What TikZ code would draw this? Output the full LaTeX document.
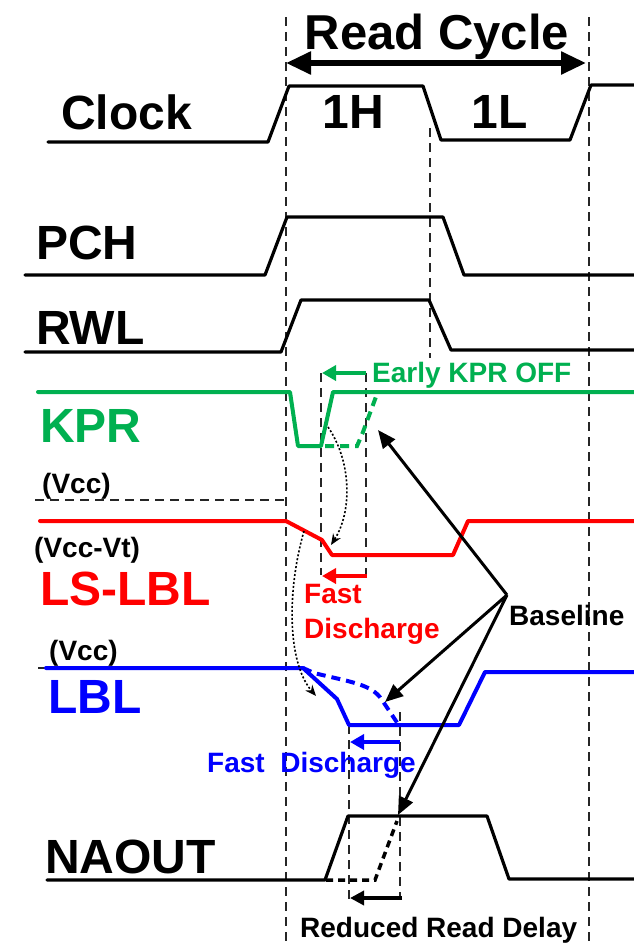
\documentclass[tikz,border=0pt]{standalone}
\usepackage{fontspec}
\setmainfont{Liberation Sans}
\usetikzlibrary{arrows.meta}
\definecolor{kgreen}{RGB}{0,176,80}
\definecolor{kred}{RGB}{255,0,0}
\definecolor{kblue}{RGB}{0,0,255}
\begin{document}
\begin{tikzpicture}[x=1pt,y=-1pt,
  titletext/.style={font=\fontsize{49}{53}\selectfont\bfseries, inner sep=0pt, anchor=base},
  bigtext/.style={font=\fontsize{48}{52}\selectfont\bfseries, inner sep=0pt, anchor=base west},
  phasetext/.style={font=\fontsize{48}{52}\selectfont\bfseries, inner sep=0pt, anchor=base},
  smalltext/.style={font=\fontsize{28}{31}\selectfont\bfseries, inner sep=0pt, anchor=base west},
  voltext/.style={font=\fontsize{28}{31}\selectfont\bfseries, inner sep=0pt, anchor=base west},
  wave/.style={line width=3.2pt, line join=round, line cap=round},
  cwave/.style={line width=4pt, line join=round, line cap=round},
  cdash/.style={line width=4pt, dash pattern=on 9pt off 6pt},
  guide/.style={line width=1.2pt, dash pattern=on 9pt off 6pt, black!85},
  shiftarrow/.style={line width=4pt, -{Triangle[length=14pt,width=15pt]}},
  dotarrow/.style={line width=1.6pt, dash pattern=on 2pt off 2pt, -{Stealth[length=11pt,width=9pt]}},
  basearrow/.style={line width=3pt, -{Triangle[length=18pt,width=15pt]}}
]
\useasboundingbox (0,0) rectangle (634,946);

% guide lines
\draw[guide] (286,17) -- (286,946);
\draw[guide] (589,17) -- (589,946);
\draw[guide] (430,128) -- (430,358);
\draw[guide] (321,373) -- (321,575);
\draw[guide] (366,373) -- (366,575);
\draw[guide] (349,725) -- (349,900);
\draw[guide] (400,712) -- (400,900);
\draw[guide] (35,500) -- (286,500);
\draw[guide] (38,668) -- (286,668);

% title
\node[titletext] (title) at (437,49) {Read Cycle};
\coordinate (rcl) at (286,63);
\coordinate (rcr) at (586,63);
\draw[line width=5.5pt, {Triangle[length=25pt,width=22pt]}-{Triangle[length=25pt,width=22pt]}] (rcl) -- (rcr);

% Clock
\node[bigtext] (clk) at (61,129) {Clock};
\node[phasetext] (h1) at (353,128) {1H};
\node[phasetext] (l1) at (500,128) {1L};
\draw[wave] (48,142) -- (268,142) -- (289,86) -- (423,86) -- (441,140) -- (570,140) -- (591,85) -- (634,85);

% PCH
\node[bigtext] (pch) at (36,259) {PCH};
\draw[wave] (25,275) -- (265,275) -- (287,217) -- (443,217) -- (464,275) -- (634,275);

% RWL
\node[bigtext] (rwl) at (36,344) {RWL};
\draw[wave] (25,352) -- (281,352) -- (301,300) -- (429,300) -- (451,350) -- (634,350);

% KPR
\node[bigtext, text=kgreen] (kpr) at (40,442) {KPR};
\draw[cwave, kgreen] (38,392) -- (290,392) -- (298,446) -- (321,446) -- (333,392) -- (634,392);
\draw[cdash, kgreen] (325,446) -- (357,446) -- (363,432) -- (377,394);
\coordinate (ek1) at (366,373);
\coordinate (ek2) at (322,373);
\draw[shiftarrow, kgreen] (ek1) -- (ek2);
\node[smalltext, text=kgreen] (early) at (372,382) {Early KPR OFF};

% LS-LBL
\node[voltext] (vcc1) at (42,493) {(Vcc)};
\node[voltext] (vccvt) at (34,557) {(Vcc-Vt)};
\node[bigtext, text=kred] (lslbl) at (40,605) {LS-LBL};
\draw[cwave, kred] (40,521) -- (286,521) -- (322,540) -- (332,555) -- (453,555) -- (468,521) -- (634,521);
\coordinate (fr1) at (367,576);
\coordinate (fr2) at (322,576);
\draw[shiftarrow, kred] (fr1) -- (fr2);
\node[smalltext, text=kred] (fast1) at (304,603) {Fast};
\node[smalltext, text=kred] (dis1) at (304,638) {Discharge};

% LBL
\node[voltext] (vcc2) at (49,660) {(Vcc)};
\node[bigtext, text=kblue] (lbl) at (48,713) {LBL};
\draw[cwave, kblue] (46,668) -- (303,668) -- (337,699) -- (349,725) -- (459,725) -- (485,672) -- (634,672);
\draw[cdash, kblue] (303,668) -- (314,673) .. controls (350,682) and (372,684) .. (382,700) -- (398,724);
\coordinate (fb1) at (400,742);
\coordinate (fb2) at (350,742);
\draw[shiftarrow, kblue] (fb1) -- (fb2);
\node[smalltext, text=kblue] (fast2) at (207,772) {Fast\ \ Discharge};

% NAOUT
\node[bigtext] (naout) at (45,873) {NAOUT};
\draw[wave] (47,880) -- (325,880) -- (348,816) -- (487,816) -- (509,879) -- (634,879);
\draw[line width=3.5pt, dash pattern=on 7pt off 5pt] (326,880) -- (375,880) -- (397,821);
\coordinate (nd1) at (402,898);
\coordinate (nd2) at (350,898);
\draw[line width=3.5pt, -{Triangle[length=14pt,width=14pt]}] (nd1) -- (nd2);
\node[smalltext] (rrd) at (300,937) {Reduced Read Delay};

% dotted causal arrows
\coordinate (kd0) at (328,427);
\coordinate (kd1) at (331,545);
\draw[dotarrow] (kd0) .. controls (352,462) and (352,512) .. (kd1);
\coordinate (ld0) at (304,531);
\coordinate (ld1) at (316,696);
\draw[dotarrow] (ld0) .. controls (287,590) and (287,662) .. (ld1);

% Baseline
\node[smalltext] (base) at (509,625) {Baseline};
\coordinate (bo) at (507,595);
\coordinate (bt1) at (378,430);
\coordinate (bt2) at (385,702);
\coordinate (bt3) at (398,815);
\draw[basearrow] (bo) -- (bt1);
\draw[basearrow] (bo) -- (bt2);
\draw[basearrow] (bo) -- (bt3);
\end{tikzpicture}
\end{document}
